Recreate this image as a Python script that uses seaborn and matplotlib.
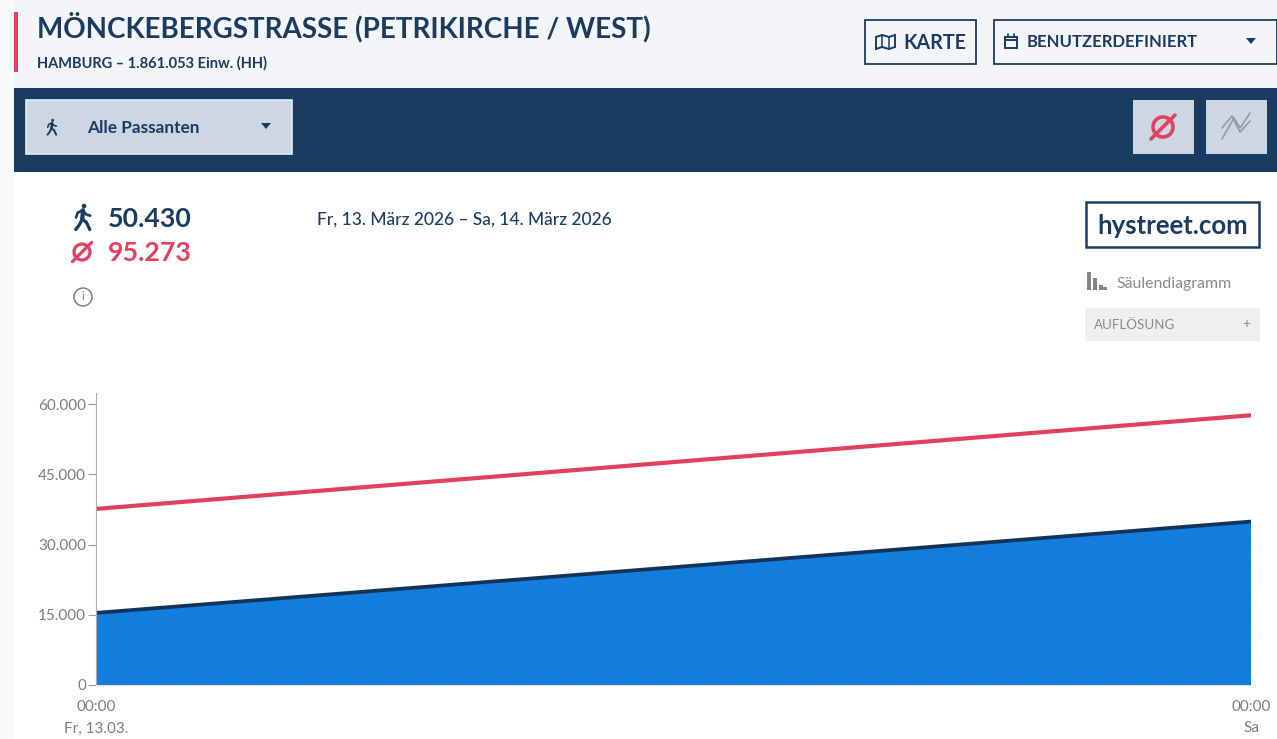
#!/usr/bin/env python3
import pandas as pd
import seaborn as sns
import matplotlib.pyplot as plt
from matplotlib.patches import Rectangle, Polygon, Circle

# Data
hours = [0, 24]
passanten = [15400, 34900]
durchschnitt = [37600, 57600]
y_ticks = [0, 15000, 30000, 45000, 60000]
y_labels = ['0', '15.000', '30.000', '45.000', '60.000']
x_labels = ['00:00\nFr, 13.03.', '00:00\nSa']

NAVY = '#1a3c60'
DARK = '#12345a'
RED = '#e2405f'
BLUE = '#127fe0'
GRAY = '#7d7d7d'
BTN = '#cdd6e3'

W, H = 1277, 739


def box(ax, x0, y0, x1, y1, fc, ec='none', lw=0, z=1):
	ax.add_patch(Rectangle((x0, y0), x1 - x0, y1 - y0, fc=fc, ec=ec, lw=lw, zorder=z))


def tri(ax, x, y, color):
	ax.add_patch(Polygon([(x - 5, y - 3), (x + 5, y - 3), (x, y + 3)], fc=color, ec='none', zorder=3))


def walker(ax, x, y, s, color):
	# small walking figure, s = height in px
	lw = s * 0.09
	ax.add_patch(Circle((x + 0.04 * s, y - 0.42 * s), 0.09 * s, fc=color, ec='none', zorder=3))
	ax.plot([x, x - 0.03 * s], [y - 0.26 * s, y + 0.1 * s], color=color, lw=lw * 1.3, zorder=3)
	ax.plot([x - 0.27 * s, x - 0.2 * s, x, x + 0.12 * s, x + 0.28 * s],
		[y + 0.02 * s, y - 0.17 * s, y - 0.26 * s, y - 0.1 * s, y - 0.05 * s], color=color, lw=lw * 0.8, zorder=3)
	ax.plot([x - 0.28 * s, x - 0.14 * s, x - 0.03 * s], [y + 0.48 * s, y + 0.3 * s, y + 0.08 * s], color=color, lw=lw, zorder=3)
	ax.plot([x - 0.03 * s, x + 0.13 * s, x + 0.26 * s], [y + 0.08 * s, y + 0.2 * s, y + 0.48 * s], color=color, lw=lw, zorder=3)


def nullzeichen(ax, x, y, r, color, lw):
	ax.add_patch(Circle((x, y), r, fc='none', ec=color, lw=lw, zorder=3))
	ax.plot([x - r * 1.2, x + r * 1.2], [y + r * 1.2, y - r * 1.2], color=color, lw=lw, zorder=3)


def main():
	sns.set_theme(style='white')
	plt.rcParams['font.family'] = ['Lato', 'DejaVu Sans']
	plt.rcParams['hatch.linewidth'] = 1.0

	fig = plt.figure(figsize=(W / 100, H / 100), dpi=100, facecolor='#f8f9fb')

	# page furniture in pixel coordinates
	bg = fig.add_axes([0, 0, 1, 1], zorder=0)
	bg.set_xlim(0, W)
	bg.set_ylim(H, 0)
	bg.axis('off')
	box(bg, 14, 0, W, 88, '#f3f5f9')
	box(bg, 14, 172, W, H, 'white')
	box(bg, 14, 88, W, 172, NAVY)
	box(bg, 14, 12, 18, 72, RED)

	bg.text(37, 27.5, 'MÖNCKEBERGSTRASSE (PETRIKIRCHE / WEST)', fontsize=20, fontweight='bold', color=NAVY, va='center')
	bg.text(37, 63.5, 'HAMBURG – 1.861.053 Einw. (HH)', fontsize=10.5, fontweight='bold', color=NAVY, va='center')

	# top buttons
	box(bg, 865, 20, 976, 64, 'none', NAVY, 1.3)
	bg.add_patch(Polygon([(876, 37), (882, 35), (889, 37), (895, 35), (895, 47), (889, 49), (882, 47), (876, 49)],
		fc='none', ec=NAVY, lw=1.4, zorder=3))
	bg.plot([882, 882], [35, 47], color=NAVY, lw=1.1, zorder=3)
	bg.plot([889, 889], [37, 49], color=NAVY, lw=1.1, zorder=3)
	bg.text(903, 43, 'KARTE', fontsize=14.1, fontweight='bold', color=NAVY, va='center')
	box(bg, 994, 20, 1277, 64, 'none', NAVY, 1.3)
	bg.add_patch(Rectangle((1005, 37), 12, 11, fc='none', ec=NAVY, lw=1.4, zorder=3))
	bg.plot([1005, 1017], [40, 40], color=NAVY, lw=1.4, zorder=3)
	bg.plot([1008, 1008], [34, 37], color=NAVY, lw=1.2, zorder=3)
	bg.plot([1014, 1014], [34, 37], color=NAVY, lw=1.2, zorder=3)
	bg.text(1027, 42, 'BENUTZERDEFINIERT', fontsize=12, fontweight='bold', color=NAVY, va='center')
	tri(bg, 1251, 41, NAVY)

	# navy band controls
	box(bg, 26, 100, 292, 154, BTN, '#e6ebf2', 1.2, 2)
	walker(bg, 52, 127, 16, NAVY)
	bg.text(87, 128, 'Alle Passanten', fontsize=12.4, fontweight='bold', color=NAVY, va='center', zorder=3)
	tri(bg, 266, 126, NAVY)
	box(bg, 1133, 100, 1194, 154, BTN, z=2)
	nullzeichen(bg, 1163, 127, 10, RED, 2.6)
	box(bg, 1206, 100, 1267, 154, BTN, z=2)
	bg.plot([1222, 1234, 1240, 1250], [139, 118, 128, 113], color='#8f96a0', lw=1.1, zorder=3)
	bg.plot([1222, 1232, 1240, 1250], [128, 116, 132, 121], color='#8f96a0', lw=1.1, zorder=3)

	# summary block
	walker(bg, 83, 217, 26, NAVY)
	bg.text(108, 219, '50.430', fontsize=19.3, fontweight='bold', color=NAVY, va='center')
	nullzeichen(bg, 82, 252, 8, RED, 2.3)
	bg.text(108, 253, '95.273', fontsize=19.3, fontweight='bold', color=RED, va='center')
	bg.add_patch(Circle((83, 297), 9, fc='none', ec='#777777', lw=1, zorder=3))
	bg.text(83, 297, 'i', fontsize=8, color='#777777', ha='center', va='center')
	bg.text(317, 220, 'Fr, 13. März 2026 – Sa, 14. März 2026', fontsize=12.5, fontweight='medium', color=NAVY, va='center')

	# right column
	box(bg, 1086, 202, 1259, 247, 'white', NAVY, 1.8)
	bg.text(1173, 226, 'hystreet.com', fontsize=18.5, fontweight='bold', color=NAVY, ha='center', va='center', zorder=3)
	for bx, bh in zip([1087, 1093, 1099, 1103], [18, 12, 5, 3]):
		box(bg, bx, 290 - bh, bx + 4, 290, '#858585', z=3)
	bg.text(1116, 284, 'Säulendiagramm', fontsize=11.4, color='#8a8a8a', va='center')
	box(bg, 1085, 308, 1260, 341, '#efefef')
	bg.text(1094, 325, 'AUFLÖSUNG', fontsize=9.6, color='#8a8a8a', va='center', zorder=3)
	bg.text(1246, 324, '+', fontsize=10, color='#8a8a8a', ha='center', va='center', zorder=3)

	# chart
	ax = fig.add_axes([96 / W, (H - 685) / H, (1251 - 96) / W, (685 - 393) / H], zorder=2)
	ax.patch.set_alpha(0)
	df = pd.DataFrame({'stunde': hours, 'passanten': passanten, 'durchschnitt': durchschnitt})
	ax.fill_between(df['stunde'], 0, df['passanten'], facecolor=BLUE, edgecolor='#1a78d0', hatch='\\\\\\', lw=0)
	sns.lineplot(data=df, x='stunde', y='passanten', color=DARK, lw=2.7, ax=ax, solid_capstyle='butt')
	sns.lineplot(data=df, x='stunde', y='durchschnitt', color=RED, lw=3, ax=ax, solid_capstyle='butt')

	ax.set_xlim(0, 24)
	ax.set_ylim(0, 62350)
	ax.set_xlabel('')
	ax.set_ylabel('')
	ax.set_xticks(hours)
	ax.set_xticklabels(x_labels, fontsize=11, color=GRAY, linespacing=1.65)
	ax.set_yticks(y_ticks)
	ax.set_yticklabels(y_labels, fontsize=11, color=GRAY)
	ax.tick_params(axis='y', length=6, width=0.8, color='#999999', pad=1, left=True)
	ax.tick_params(axis='x', length=0, pad=11)
	for side in ['top', 'right']:
		ax.spines[side].set_visible(False)
	ax.spines['left'].set_color('#aaaaaa')
	ax.spines['left'].set_linewidth(0.8)
	ax.spines['bottom'].set_color('#dddddd')
	ax.spines['bottom'].set_linewidth(0.8)

	fig.savefig('out.png', dpi=100, facecolor=fig.get_facecolor())


if __name__ == '__main__':
	main()
